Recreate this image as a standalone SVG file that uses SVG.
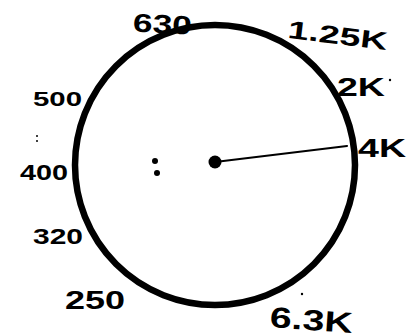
<svg xmlns="http://www.w3.org/2000/svg" width="407" height="336" viewBox="0 0 407 336">
<style>
.lbl{font-family:"Liberation Sans","DejaVu Sans",sans-serif;font-weight:bold;fill:#000}
.dot{fill:#000}
</style>
<rect width="407" height="336" fill="#fff"/>
<g id="dial">
<circle cx="215" cy="165" r="140" fill="none" stroke="#000" stroke-width="6.5"/>
</g>
<g id="center">
<circle class="dot" cx="215" cy="162" r="6.5"/>
</g>
<g id="colon">
<circle class="dot" cx="155" cy="161" r="3"/>
<circle class="dot" cx="157" cy="173" r="3"/>
</g>
<g id="marks">
<circle class="dot" cx="37" cy="136" r="1"/>
<circle class="dot" cx="37" cy="141" r="1"/>
<circle class="dot" cx="390" cy="80" r="1.2"/>
<circle class="dot" cx="302" cy="294" r="1.2"/>
</g>
<g id="connectors">
<line x1="215" y1="162" x2="347" y2="146" stroke="#000" stroke-width="2.2" stroke-linecap="round"/>
</g>
<g id="label-630"><text class="lbl" x="133" y="33" font-size="26" textLength="59" lengthAdjust="spacingAndGlyphs" transform="rotate(3 162 23)">630</text></g>
<g id="label-1.25k"><text class="lbl" x="288" y="44" font-size="25" textLength="100" lengthAdjust="spacingAndGlyphs" transform="rotate(7 338 33)">1.25K</text></g>
<g id="label-2k"><text class="lbl" x="337" y="96" font-size="26" textLength="48" lengthAdjust="spacingAndGlyphs">2K</text></g>
<g id="label-4k"><text class="lbl" x="358" y="157" font-size="25" textLength="48" lengthAdjust="spacingAndGlyphs">4K</text></g>
<g id="label-500"><text class="lbl" x="33" y="106" font-size="21" textLength="49" lengthAdjust="spacingAndGlyphs">500</text></g>
<g id="label-400"><text class="lbl" x="20" y="180" font-size="22" textLength="48" lengthAdjust="spacingAndGlyphs">400</text></g>
<g id="label-320"><text class="lbl" x="33" y="244" font-size="22" textLength="50" lengthAdjust="spacingAndGlyphs">320</text></g>
<g id="label-250"><text class="lbl" x="65" y="309" font-size="25" textLength="60" lengthAdjust="spacingAndGlyphs">250</text></g>
<g id="label-6.3k"><text class="lbl" x="270" y="330" font-size="29" textLength="83" lengthAdjust="spacingAndGlyphs" transform="rotate(4 311 318)">6.3K</text></g>
</svg>
